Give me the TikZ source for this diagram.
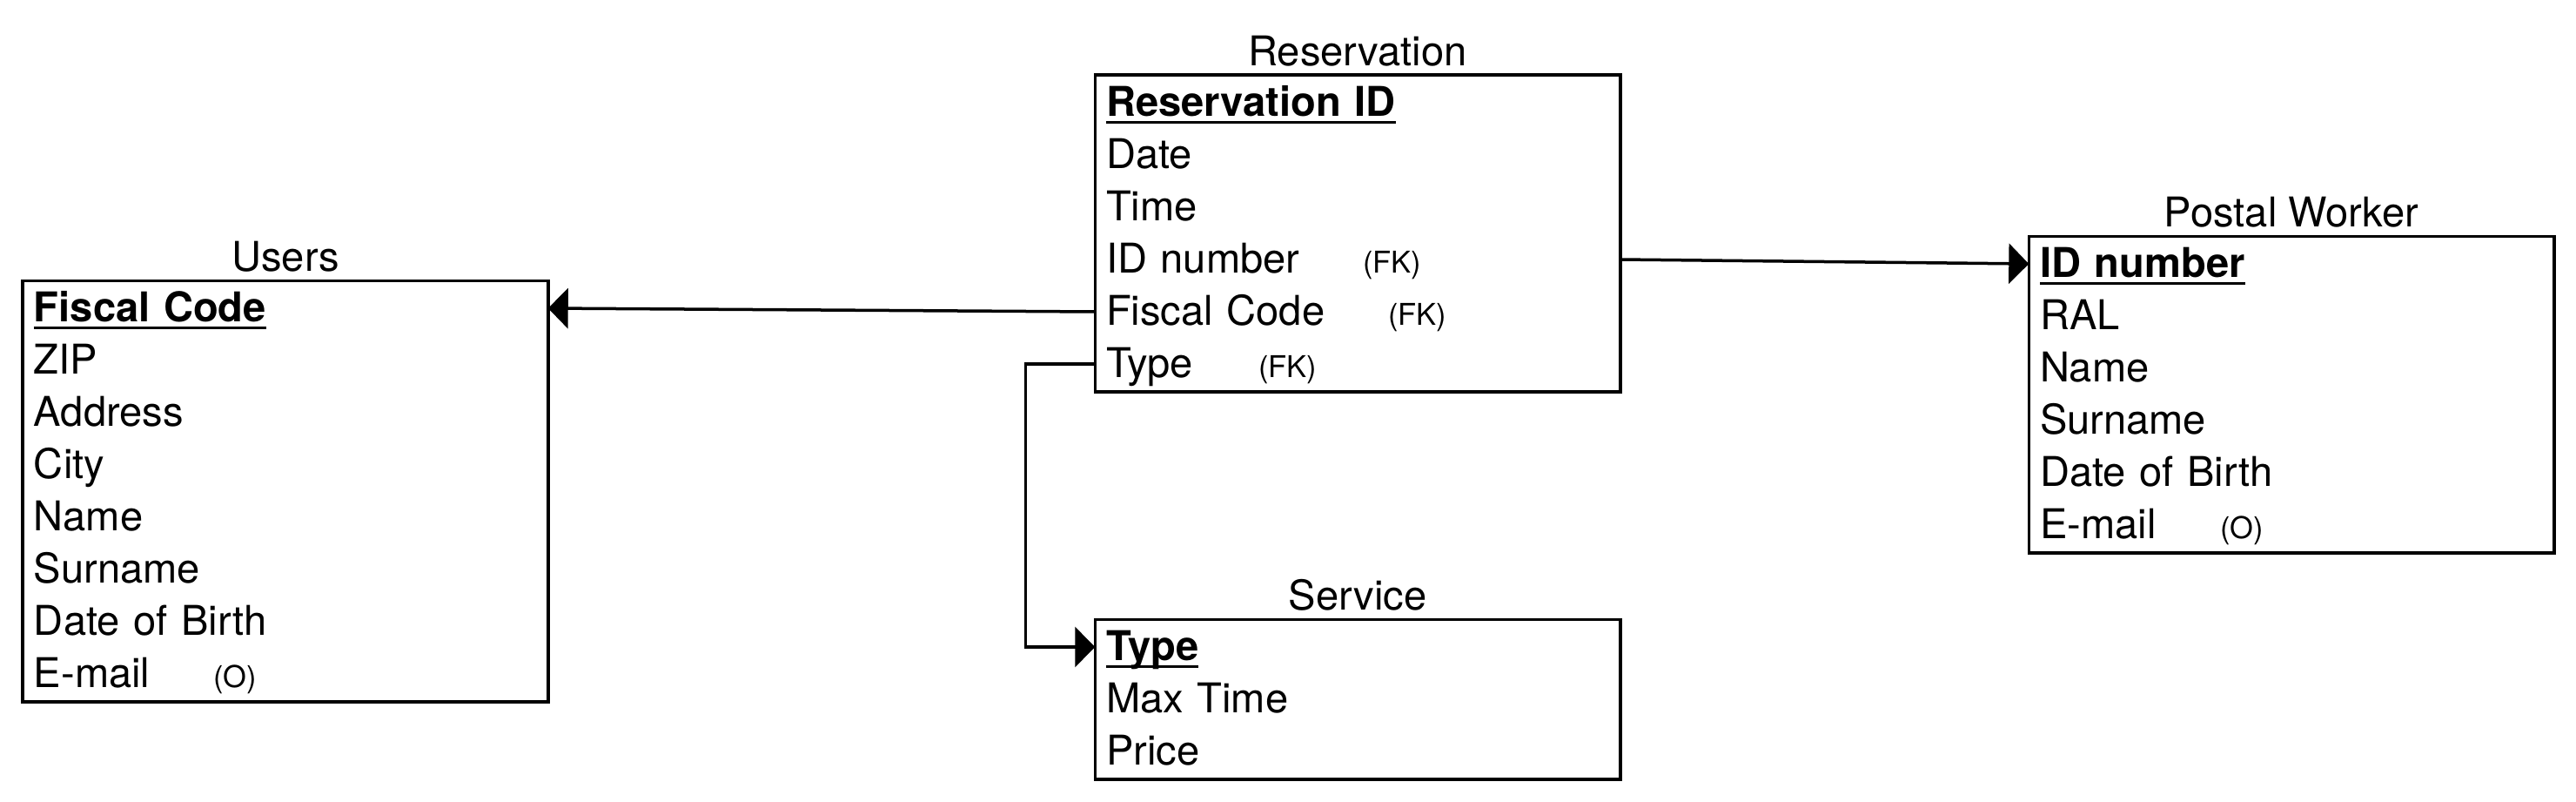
\documentclass[tikz,border=0pt]{standalone}
\usepackage{fontspec}
\setmainfont{TeX Gyre Heros}
\usetikzlibrary{arrows.meta,positioning,fit}
\tikzstyle{row} = [rectangle, inner xsep=0.11cm, inner ysep=0, text width=5.78cm,
align=left, minimum height=0.6cm, text height=0.35cm, text depth=0.05cm,
font=\fontsize{13.4}{16}\selectfont]
\tikzstyle{entity} = [draw, rectangle, inner sep=0]
\tikzstyle{title} = [anchor=base, inner sep=0, yshift=0.09cm,
font=\fontsize{13.4}{16}\selectfont]
\newcommand{\pkey}[1]{\sbox0{\bfseries #1}\rlap{\rule[-0.085cm]{\wd0}{0.03cm}}\usebox0}
\newcommand{\attrnote}[3]{\makebox[#1][l]{#2}{\fontsize{9.8}{12}\selectfont #3}}

\begin{document}
\begin{tikzpicture}[auto, node distance=0.6cm, line width=0.035cm,
	>={Triangle[length=0.23cm, width=0.46cm]}]
	\useasboundingbox (0,0) rectangle (29.6,9.2);
	% Users
	\node [row] (Users0) at (3.28,5.66) {\pkey{Fiscal Code}};
	\node [row, below of=Users0] (Users1) {ZIP};
	\node [row, below of=Users1] (Users2) {Address};
	\node [row, below of=Users2] (Users3) {City};
	\node [row, below of=Users3] (Users4) {Name};
	\node [row, below of=Users4] (Users5) {Surname};
	\node [row, below of=Users5] (Users6) {Date of Birth};
	\node [row, below of=Users6] (Users7) {\attrnote{2.06cm}{E-mail}{(O)}};
	\node [entity, fit=(Users0)(Users7)] (Users) {};
	\node [title] at (Users.north) {Users};
	% Reservation
	\node [row] (Res0) at (15.60,8.02) {\pkey{Reservation ID}};
	\node [row, below of=Res0] (Res1) {Date};
	\node [row, below of=Res1] (Res2) {Time};
	\node [row, below of=Res2] (Res3) {\attrnote{2.95cm}{ID number}{(FK)}};
	\node [row, below of=Res3] (Res4) {\attrnote{3.24cm}{Fiscal Code}{(FK)}};
	\node [row, below of=Res4] (Res5) {\attrnote{1.75cm}{Type}{(FK)}};
	\node [entity, fit=(Res0)(Res5)] (Res) {};
	\node [title] at (Res.north) {Reservation};
	% Postal Worker
	\node [row] (Worker0) at (26.33,6.17) {\pkey{ID number}};
	\node [row, below of=Worker0] (Worker1) {RAL};
	\node [row, below of=Worker1] (Worker2) {Name};
	\node [row, below of=Worker2] (Worker3) {Surname};
	\node [row, below of=Worker3] (Worker4) {Date of Birth};
	\node [row, below of=Worker4] (Worker5) {\attrnote{2.07cm}{E-mail}{(O)}};
	\node [entity, fit=(Worker0)(Worker5)] (Worker) {};
	\node [title] at (Worker.north) {Postal Worker};
	% Service
	\node [row] (Service0) at (15.60,1.77) {\pkey{Type}};
	\node [row, below of=Service0] (Service1) {Max Time};
	\node [row, below of=Service1] (Service2) {Price};
	\node [entity, fit=(Service0)(Service2)] (Service) {};
	\node [title] at (Service.north) {Service};
	
	\draw [->] (Res4.west) -- (Users0.east);
	\draw [->] (Res3.east) -- (Worker0.west);
	\draw [->] (Res5.west) -- ++(-0.8,0) |- (Service0.west);
	
\end{tikzpicture}
\end{document}
